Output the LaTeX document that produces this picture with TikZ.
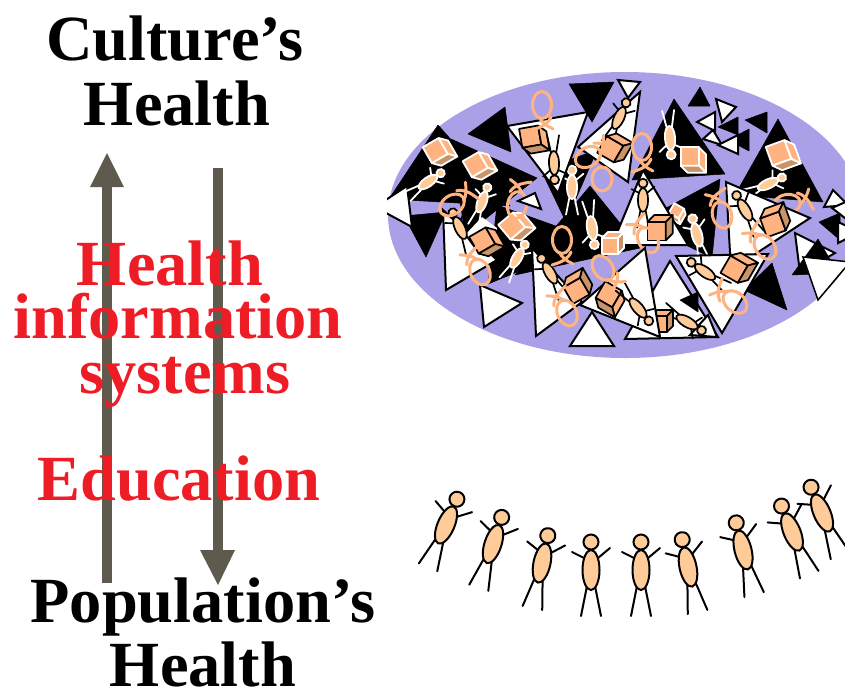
\documentclass[tikz,border=0pt]{standalone}
\usepackage{fontspec}
\setmainfont{Liberation Serif}
\definecolor{lav}{HTML}{AAA0E8}
\definecolor{skin}{HTML}{FFCC99}
\definecolor{peach}{HTML}{FFB380}
\definecolor{peachd}{HTML}{C89468}
\definecolor{arrowgrey}{HTML}{5F5A4E}
\definecolor{redtxt}{HTML}{EE1C25}
\tikzset{
  bt/.style={fill=black,draw=black,line width=.5pt,line join=round},
  wt/.style={fill=white,draw=black,line width=2pt,line join=miter},
  big/.style={font=\bfseries\fontsize{64.4}{64}\selectfont,anchor=base,inner sep=0pt},
  blk/.style={big,text=black},
  rd/.style={big,text=redtxt},
  arr/.style={draw=arrowgrey,line width=10pt},
  head/.style={fill=arrowgrey,draw=none},
  onw/.style={draw=black,line width=1.7pt},
  onb/.style={draw=white,line width=1.8pt},
  crowd/.style={draw=black,line width=2pt},
  curlline/.style={draw=peach,line width=3pt,line cap=round}
}
% #1 x, #2 y, #3 clockwise tilt, #4 scale, #5 stroke style
\newcommand{\persona}[5]{%
  \begin{scope}[shift={(#1,#2)},rotate=-#3,scale=#4]
    \draw[#5,line cap=round] (-7,-12)--(-19,-18) (7,-12)--(19,-22)
       (-4,16)--(-10,46) (4,16)--(10,46);
    \draw[#5,fill=skin] (0,0) ellipse [x radius=8.5,y radius=20];
    \draw[#5,fill=skin] (0,-28) circle [radius=7.5];
  \end{scope}}
% #1 x, #2 y, #3 clockwise turn, #4 scale, #5 stroke style
\newcommand{\boxcube}[5]{%
  \begin{scope}[shift={(#1,#2)},rotate=-#3,scale=#4]
    \draw[#5,line join=round,fill=peach] (-11,-7)--(5,-7)--(5,9)--(-11,9)--cycle;
    \draw[#5,line join=round,fill=peach] (-11,-7)--(-5,-13)--(11,-13)--(5,-7)--cycle;
    \draw[#5,line join=round,fill=peachd] (5,-7)--(11,-13)--(11,3)--(5,9)--cycle;
  \end{scope}}
% #1 x, #2 y, #3 clockwise turn of the tail
\newcommand{\curly}[3]{%
  \begin{scope}[shift={(#1,#2)},rotate=-#3]
    \draw[curlline] (0,0) ellipse [x radius=9.5,y radius=13.5];
    \draw[curlline] (-3,12) .. controls (0,18) and (5,21) .. (11,24) (9,12) .. controls (6,19) and (0,22) .. (-10,25);
  \end{scope}}
\begin{document}
\begin{tikzpicture}[x=1pt,y=-1pt]
\useasboundingbox (0,0) rectangle (845,691);
\begin{scope}
\clip (387,0) rectangle (845,691);
\fill[lav] (625,215) ellipse [x radius=237,y radius=143];
% black triangles
\draw[bt] (674,99)--(725,174)--(632,180)--cycle;
\draw[bt] (778,119)--(823,202)--(735,195)--cycle;
\draw[bt] (569,84)--(614,82)--(592,122)--cycle;
\draw[bt] (468,134)--(505,107)--(511,152)--cycle;
\draw[bt] (438,125)--(389,199)--(510,206)--cycle;
\draw[bt] (451,139)--(537,178)--(465,235)--cycle;
\draw[bt] (404,216)--(446,212)--(426,257)--cycle;
\draw[bt] (497,205)--(488,284)--(595,240)--cycle;
\draw[bt] (541,170)--(597,150)--(566,222)--cycle;
\draw[bt] (590,186)--(515,275)--(640,248)--cycle;
\draw[bt] (720,179)--(712,258)--(640,222)--cycle;
\draw[bt] (700,87)--(688,106)--(710,106)--cycle;
\draw[bt] (767,112)--(745,120)--(767,133)--cycle;
\draw[bt] (738,117)--(718,127)--(738,135)--cycle;
\draw[bt] (749,129)--(728,140)--(749,151)--cycle;
\draw[bt] (772,263)--(744,290)--(787,310)--cycle;
% small white triangles, upper right
\draw[wt] (716,99)--(736,107)--(722,122)--cycle;
\draw[wt] (715,112)--(697,122)--(715,131)--cycle;
\draw[wt] (713,130)--(703,139)--(722,145)--cycle;
\draw[wt] (738,135)--(718,145)--(738,154)--cycle;
\draw[wt] (618,80)--(640,82)--(628,98)--cycle;
\draw[wt] (407,186)--(375,207)--(412,227)--cycle;
\draw[wt] (833,190)--(848,205)--(824,207)--cycle;
\draw[wt] (832,208)--(850,200)--(850,222)--cycle;
\draw[bt] (840,213)--(819,222)--(840,240)--cycle;
\draw[wt] (838,222)--(860,232)--(838,243)--cycle;
% white figures on black
\persona{428}{182}{55}{.55}{onb}
\persona{482}{202}{20}{.55}{onb}
\persona{517}{258}{30}{.55}{onb}
\persona{572}{187}{0}{.6}{onb}
\persona{592}{228}{172}{.6}{onb}
\persona{670}{138}{176}{.6}{onb}
\persona{768}{184}{65}{.55}{onb}
\persona{697}{235}{-15}{.6}{onb}
\boxcube{438}{153}{60}{1.15}{onb}
\boxcube{478}{167}{60}{1.15}{onb}
\boxcube{515}{228}{50}{1.2}{onb}
\boxcube{691}{160}{90}{1.15}{onb}
\boxcube{781}{156}{70}{1.25}{onb}
\boxcube{676}{213}{120}{.7}{onb}
\curly{517}{205}{-170}
\curly{787}{204}{-100}
% white triangles with their contents
\draw[wt] (535,193)--(541,209)--(518,201)--cycle;
\draw[wt] (507,126)--(588,112)--(558,193)--cycle;
\boxcube{532}{140}{80}{1.2}{onw}
\persona{554}{163}{178}{.6}{onw}
\draw[wt] (640,92)--(578,147)--(628,182)--cycle;
\persona{619}{118}{25}{.6}{onw}
\boxcube{614}{150}{30}{1.2}{onw}
\draw[wt] (643,170)--(612,245)--(688,245)--cycle;
\boxcube{613}{245}{0}{1}{onb}
\persona{643}{200}{0}{.6}{onw}
\boxcube{660}{230}{0}{1.15}{onw}
\draw[wt] (726,182)--(810,218)--(731,270)--cycle;
\persona{745}{210}{-30}{.6}{onw}
\boxcube{776}{222}{-20}{1.25}{onw}
\draw[wt] (443,210)--(446,290)--(497,260)--cycle;
\fill[white] (482,217)--(497,228)--(490,262)--(465,235)--cycle;
\persona{460}{228}{-25}{.6}{onw}
\boxcube{485}{243}{60}{1.2}{onw}
\draw[wt] (480,285)--(522,303)--(484,327)--cycle;
\draw[wt] (532,248)--(536,336)--(582,302)--cycle;
\persona{550}{273}{-30}{.6}{onw}
\boxcube{579}{288}{-30}{1.2}{onw}
\draw[wt] (592,312)--(570,346)--(614,346)--cycle;
\draw[wt] (670,261)--(625,339)--(718,337)--cycle;
\draw[bt] (698,292)--(680,300)--(698,312)--cycle;
\draw[wt] (708,315)--(690,335)--(717,337)--cycle;
\persona{687}{322}{120}{.6}{onw}
\boxcube{662}{323}{0}{1}{onw}
\curly{648}{240}{150}
\draw[wt] (645,248)--(660,337)--(580,305)--cycle;
\boxcube{608}{298}{120}{1.2}{onw}
\persona{638}{308}{140}{.6}{onw}
\draw[wt] (676,256)--(768,254)--(722,333)--cycle;
\persona{705}{272}{-55}{.6}{onw}
\boxcube{738}{270}{30}{1.25}{onw}
% bottom right cluster
\draw[wt] (795,233)--(835,253)--(800,273)--cycle;
\draw[bt] (818,239)--(792,275)--(838,273)--cycle;
\draw[fill=white,draw=black,line width=1.5pt] (803,257)--(850,262)--(818,300)--cycle;
% ribbons
\curly{542}{105}{0}
\curly{642}{147}{0}
\curly{562}{240}{0}
\draw[curlline] (602,179) ellipse [x radius=10,y radius=12];
\curly{588}{157}{-120}
\curly{452}{205}{-125}
\curly{480}{272}{155}
\curly{567}{313}{155}
\curly{603}{268}{-35}
\curly{722}{215}{165}
\curly{765}{247}{145}
\curly{735}{302}{130}
\end{scope}
% crowd
\persona{446}{525}{23}{1}{crowd}
\persona{493}{544}{18}{1}{crowd}
\persona{542}{563}{12}{1}{crowd}
\persona{591}{570}{0}{1}{crowd}
\persona{641}{570}{0}{1}{crowd}
\persona{688}{567}{-12}{1}{crowd}
\persona{743}{550}{-14}{1}{crowd}
\persona{792}{532}{-22}{1}{crowd}
\persona{822}{513}{-23}{1}{crowd}
% arrows
\coordinate (upfoot) at (107,583);
\coordinate (upneck) at (107,185);
\coordinate (upleft) at (90,187);
\coordinate (upright) at (124,187);
\coordinate (uptip) at (107,153);
\coordinate (downtop) at (218,168);
\coordinate (downneck) at (218,552);
\coordinate (downleft) at (200,550);
\coordinate (downright) at (235,550);
\coordinate (downtip) at (218,585);
\draw[arr] (upfoot) -- (upneck);
\fill[head] (uptip) -- (upleft) -- (upright) -- cycle;
\draw[arr] (downtop) -- (downneck);
\fill[head] (downtip) -- (downleft) -- (downright) -- cycle;
% text
\node[blk] (t1) at (175,60) {Culture’s};
\node[blk] (t2) at (177,125) {Health};
\node[rd] (t3) at (170,285) {Health};
\node[rd] (t4) at (178,338) {information};
\node[rd] (t5) at (185,393) {systems};
\node[rd] (t6) at (179,500) {Education};
\node[blk] (t7) at (203,622) {Population’s};
\node[blk] (t8) at (203,686) {Health};
\end{tikzpicture}
\end{document}
